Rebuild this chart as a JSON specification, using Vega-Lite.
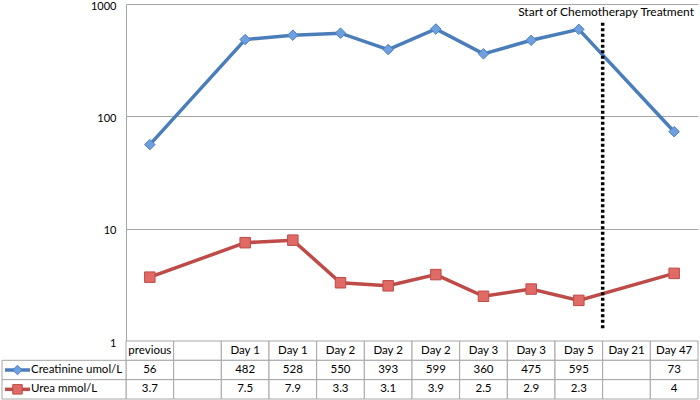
{
  "$schema": "https://vega.github.io/schema/vega-lite/v6.json",
  "width": 572,
  "height": 396,
  "autosize": {"type": "none"},
  "padding": {"left": 126, "top": 4, "right": 2, "bottom": 0},
  "background": "white",
  "config": {"view": {"stroke": null}, "font": "Lato"},
  "datasets": {
    "rows": [
      {"key": "c0", "label": "previous", "Creatinine umol/L": 56, "Urea mmol/L": 3.7},
      {"key": "c1", "label": "", "Creatinine umol/L": null, "Urea mmol/L": null},
      {"key": "c2", "label": "Day 1", "Creatinine umol/L": 482, "Urea mmol/L": 7.5},
      {"key": "c3", "label": "Day 1", "Creatinine umol/L": 528, "Urea mmol/L": 7.9},
      {"key": "c4", "label": "Day 2", "Creatinine umol/L": 550, "Urea mmol/L": 3.3},
      {"key": "c5", "label": "Day 2", "Creatinine umol/L": 393, "Urea mmol/L": 3.1},
      {"key": "c6", "label": "Day 2", "Creatinine umol/L": 599, "Urea mmol/L": 3.9},
      {"key": "c7", "label": "Day 3", "Creatinine umol/L": 360, "Urea mmol/L": 2.5},
      {"key": "c8", "label": "Day 3", "Creatinine umol/L": 475, "Urea mmol/L": 2.9},
      {"key": "c9", "label": "Day 5", "Creatinine umol/L": 595, "Urea mmol/L": 2.3},
      {"key": "c10", "label": "Day 21", "Creatinine umol/L": null, "Urea mmol/L": null},
      {"key": "c11", "label": "Day 47", "Creatinine umol/L": 73, "Urea mmol/L": 4}
    ],
    "series": [{"series": "Creatinine umol/L"}, {"series": "Urea mmol/L"}],
    "one": [{"note": "Start of Chemotherapy Treatment"}]
  },
  "resolve": {"scale": {"x": "independent", "y": "independent"}},
  "layer": [
    {
      "layer": [
        {
          "data": {"name": "rows"},
          "transform": [
            {"fold": ["Creatinine umol/L", "Urea mmol/L"], "as": ["series", "value"]},
            {"filter": "isValid(datum.value)"}
          ],
          "mark": {"type": "line", "strokeWidth": 3.5},
          "encoding": {
            "x": {"field": "key", "type": "nominal", "sort": null,
                  "scale": {"type": "band", "domain": ["c0","c1","c2","c3","c4","c5","c6","c7","c8","c9","c10","c11"], "paddingInner": 0, "paddingOuter": 0},
                  "axis": null},
            "y": {"field": "value", "type": "quantitative",
                  "scale": {"type": "log", "domain": [1, 1000], "range": [337, 0], "nice": false},
                  "axis": {"values": [1, 10, 100, 1000], "format": "d", "grid": true, "gridColor": "#a6a6a6", "gridWidth": 1,
                           "domainColor": "#a6a6a6", "ticks": false, "labelPadding": 10, "labelFontSize": 11, "labelFont": "Lato",
                           "labelColor": "black", "labelOffset": 2, "title": null}},
            "color": {"field": "series", "type": "nominal",
                      "scale": {"domain": ["Creatinine umol/L", "Urea mmol/L"], "range": ["#4a7ebb", "#be4b48"]},
                      "legend": null}
          }
        },
        {
          "data": {"name": "rows"},
          "transform": [
            {"fold": ["Creatinine umol/L", "Urea mmol/L"], "as": ["series", "value"]},
            {"filter": "isValid(datum.value)"}
          ],
          "mark": {"type": "point", "filled": true, "opacity": 1, "strokeWidth": 1, "size": 110},
          "encoding": {
            "x": {"field": "key", "type": "nominal", "sort": null},
            "y": {"field": "value", "type": "quantitative"},
            "shape": {"field": "series", "type": "nominal", "scale": {"domain": ["Creatinine umol/L", "Urea mmol/L"], "range": ["diamond", "square"]}, "legend": null},
            "fill": {"field": "series", "type": "nominal", "scale": {"domain": ["Creatinine umol/L", "Urea mmol/L"], "range": ["#6e9fe0", "#e06a66"]}, "legend": null},
            "stroke": {"field": "series", "type": "nominal", "scale": {"domain": ["Creatinine umol/L", "Urea mmol/L"], "range": ["#4a7ebb", "#be4b48"]}, "legend": null}
          }
        },
        {
          "data": {"name": "one"},
          "mark": {"type": "rule", "strokeDash": [3, 2.5], "strokeWidth": 3.5, "color": "black"},
          "encoding": {
            "x": {"datum": "c10", "type": "nominal", "bandPosition": 0},
            "y": {"datum": 1.3, "type": "quantitative"},
            "y2": {"datum": 700}
          }
        },
        {
          "data": {"name": "one"},
          "mark": {"type": "text", "align": "right", "baseline": "middle", "dx": -4, "fontSize": 12, "font": "Lato", "color": "black"},
          "encoding": {
            "x": {"datum": "c11", "type": "nominal", "bandPosition": 1},
            "y": {"datum": 850, "type": "quantitative"},
            "text": {"field": "note", "type": "nominal"}
          }
        }
      ]
    },
    {
      "layer": [
        {
          "data": {"name": "rows"},
          "mark": {"type": "rect", "fill": "white", "stroke": "#a6a6a6", "strokeWidth": 1},
          "encoding": {
            "x": {"field": "key", "type": "nominal", "sort": null,
                  "scale": {"type": "band", "domain": ["c0","c1","c2","c3","c4","c5","c6","c7","c8","c9","c10","c11"], "paddingInner": 0, "paddingOuter": 0},
                  "axis": null},
            "y": {"datum": "head", "type": "nominal",
                  "scale": {"type": "band", "domain": ["head", "Creatinine umol/L", "Urea mmol/L"], "range": [337, 395], "paddingInner": 0, "paddingOuter": 0},
                  "axis": null}
          }
        },
        {
          "data": {"name": "rows"},
          "transform": [{"fold": ["Creatinine umol/L", "Urea mmol/L"], "as": ["series", "value"]}],
          "mark": {"type": "rect", "fill": "white", "stroke": "#a6a6a6", "strokeWidth": 1},
          "encoding": {
            "x": {"field": "key", "type": "nominal", "sort": null},
            "y": {"field": "series", "type": "nominal"}
          }
        },
        {
          "data": {"name": "rows"},
          "mark": {"type": "text", "fontSize": 11.5, "font": "Lato", "color": "black", "baseline": "middle"},
          "encoding": {
            "x": {"field": "key", "type": "nominal", "sort": null},
            "y": {"datum": "head", "type": "nominal"},
            "text": {"field": "label", "type": "nominal"}
          }
        },
        {
          "data": {"name": "rows"},
          "transform": [
            {"fold": ["Creatinine umol/L", "Urea mmol/L"], "as": ["series", "value"]},
            {"filter": "isValid(datum.value)"}
          ],
          "mark": {"type": "text", "fontSize": 11.5, "font": "Lato", "color": "black", "baseline": "middle"},
          "encoding": {
            "x": {"field": "key", "type": "nominal", "sort": null},
            "y": {"field": "series", "type": "nominal"},
            "text": {"field": "value", "type": "nominal"}
          }
        }
      ]
    },
    {
      "data": {"name": "series"},
      "resolve": {"scale": {"x": "independent"}},
      "layer": [
        {
          "mark": {"type": "rect", "fill": "white", "stroke": "#a6a6a6", "strokeWidth": 1},
          "encoding": {
            "x": {"datum": "lab", "type": "nominal",
                  "scale": {"type": "band", "domain": ["lab"], "range": [-124, 0], "paddingInner": 0, "paddingOuter": 0},
                  "axis": null},
            "y": {"field": "series", "type": "nominal",
                  "scale": {"type": "band", "domain": ["head", "Creatinine umol/L", "Urea mmol/L"], "range": [337, 395], "paddingInner": 0, "paddingOuter": 0},
                  "axis": null}
          }
        },
        {
          "layer": [
            {
              "mark": {"type": "rule", "strokeWidth": 3.5},
              "encoding": {
                "x": {"datum": "l", "type": "nominal",
                      "scale": {"type": "point", "domain": ["l", "c", "r"], "range": [-121, -96], "padding": 0},
                      "axis": null},
                "x2": {"datum": "r"},
                "y": {"field": "series", "type": "nominal"},
                "color": {"field": "series", "type": "nominal", "legend": null}
              }
            },
            {
              "mark": {"type": "point", "filled": true, "opacity": 1, "strokeWidth": 1, "size": 90},
              "encoding": {
                "x": {"datum": "c", "type": "nominal"},
                "y": {"field": "series", "type": "nominal"},
                "shape": {"field": "series", "type": "nominal", "legend": null},
                "fill": {"field": "series", "type": "nominal", "legend": null},
                "stroke": {"field": "series", "type": "nominal", "legend": null}
              }
            },
            {
              "mark": {"type": "text", "align": "left", "baseline": "middle", "dx": 1, "fontSize": 11.5, "font": "Lato", "color": "black"},
              "encoding": {
                "x": {"datum": "r", "type": "nominal"},
                "y": {"field": "series", "type": "nominal"},
                "text": {"field": "series", "type": "nominal"}
              }
            }
          ]
        }
      ]
    }
  ]
}
